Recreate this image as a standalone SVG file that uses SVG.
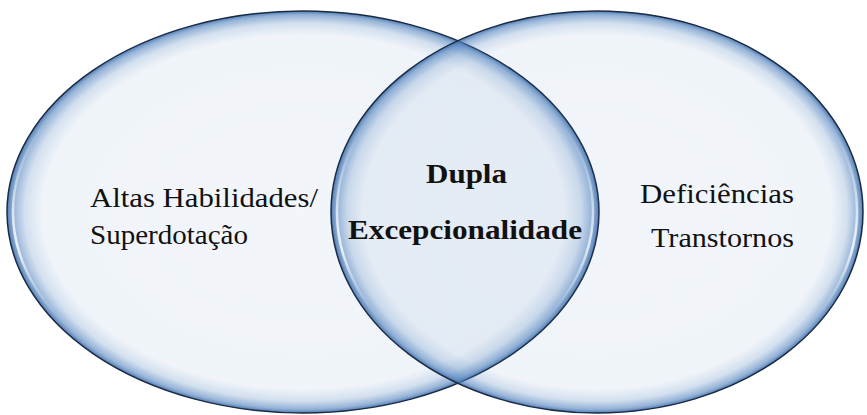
<svg xmlns="http://www.w3.org/2000/svg" width="867" height="415" viewBox="0 0 867 415">
  <defs>
    <radialGradient id="fillGrad" cx="0.5" cy="0.5" r="0.5">
      <stop offset="0" stop-color="#4F81BD" stop-opacity="0.075"/>
      <stop offset="0.88" stop-color="#4F81BD" stop-opacity="0.085"/>
      <stop offset="0.94" stop-color="#4F81BD" stop-opacity="0.25"/>
      <stop offset="0.98" stop-color="#4F81BD" stop-opacity="0.6"/>
      <stop offset="1" stop-color="#3E6EA8" stop-opacity="0.9"/>
    </radialGradient>
    <linearGradient id="hlGrad" x1="0" y1="0" x2="1" y2="0">
      <stop offset="0" stop-color="#FFFFFF" stop-opacity="0.9"/>
      <stop offset="0.08" stop-color="#FFFFFF" stop-opacity="0"/>
      <stop offset="0.92" stop-color="#FFFFFF" stop-opacity="0"/>
      <stop offset="1" stop-color="#FFFFFF" stop-opacity="0.9"/>
    </linearGradient>
    <linearGradient id="hlV" x1="0" y1="0" x2="0" y2="1">
      <stop offset="0" stop-color="#FFFFFF" stop-opacity="0"/>
      <stop offset="0.3" stop-color="#FFFFFF" stop-opacity="0"/>
      <stop offset="0.6" stop-color="#FFFFFF" stop-opacity="1"/>
      <stop offset="0.85" stop-color="#FFFFFF" stop-opacity="0"/>
    </linearGradient>
    <mask id="hlMask">
      <rect x="0" y="0" width="867" height="415" fill="url(#hlV)"/>
    </mask>
  </defs>
  <style>
    .circle { fill: url(#fillGrad); stroke: #1C2B44; stroke-width: 1.5; }
    .hl { fill: none; stroke: url(#hlGrad); stroke-width: 2.5; }
    text { fill: #111111; }
  </style>
  <rect width="867" height="415" fill="#FFFFFF"/>
  <g id="node-altas-habilidades">
    <ellipse class="circle" cx="303" cy="212" rx="296" ry="201"/>
    <ellipse class="hl" cx="303" cy="212" rx="290" ry="195" mask="url(#hlMask)"/>
  </g>
  <g id="node-deficiencias">
    <ellipse class="circle" cx="597" cy="212" rx="266" ry="201"/>
    <ellipse class="hl" cx="597" cy="212" rx="260" ry="195" mask="url(#hlMask)"/>
  </g>
  <g id="connectors"></g>
  <g id="labels" font-family="Liberation Serif, Times New Roman, serif" font-size="27">
    <text x="90" y="207" textLength="228" lengthAdjust="spacingAndGlyphs">Altas Habilidades/</text>
    <text x="90" y="244" textLength="158" lengthAdjust="spacingAndGlyphs">Superdotação</text>
    <text x="426" y="183" font-weight="bold" textLength="81" lengthAdjust="spacingAndGlyphs">Dupla</text>
    <text x="348" y="239" font-weight="bold" textLength="234" lengthAdjust="spacingAndGlyphs">Excepcionalidade</text>
    <text x="640" y="203" textLength="154" lengthAdjust="spacingAndGlyphs">Deficiências</text>
    <text x="651" y="247" textLength="143" lengthAdjust="spacingAndGlyphs">Transtornos</text>
  </g>
</svg>
